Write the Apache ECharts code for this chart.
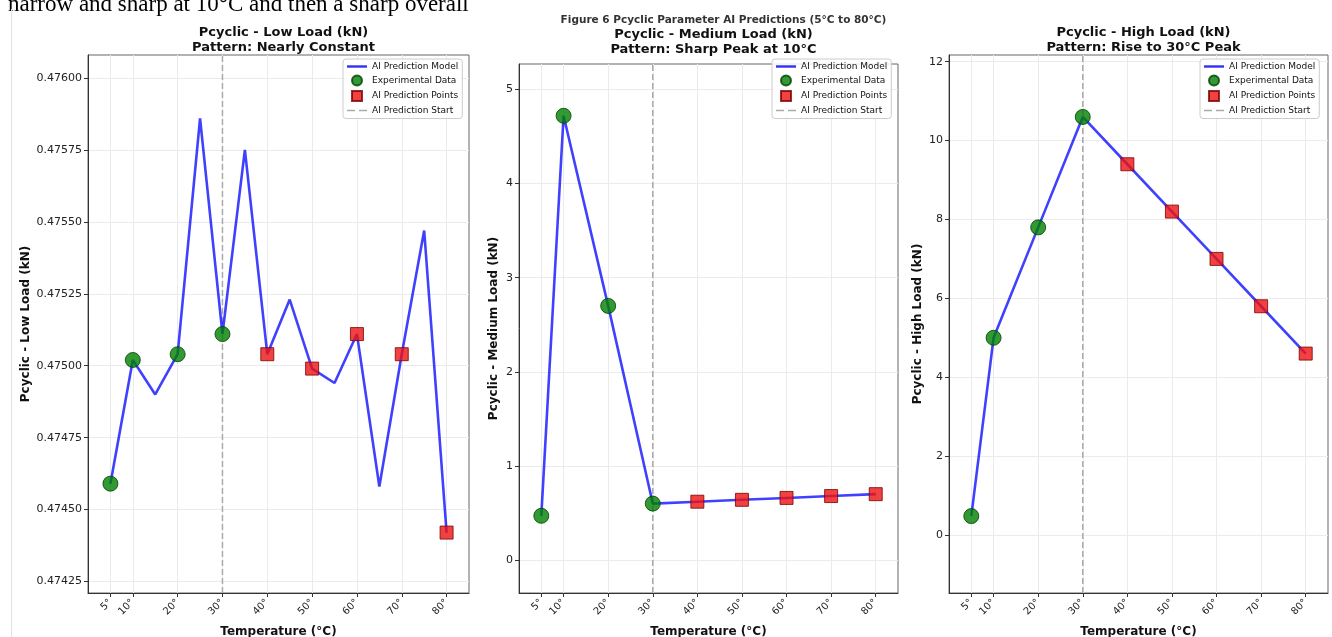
<!DOCTYPE html>
<html>
<head>
<meta charset="utf-8">
<script src="https://cdn.jsdelivr.net/npm/echarts@6/dist/echarts.min.js"></script>
<style>
html,body{margin:0;padding:0;background:#fff;}
#chart{width:1332px;height:637px;}
</style>
</head>
<body>
<div id="chart"></div>
<script>
// ---- data ----
const temps = [5, 10, 20, 30, 40, 50, 60, 70, 80];
const lowTemps = [5, 10, 15, 20, 25, 30, 35, 40, 45, 50, 55, 60, 65, 70, 75, 80];
const lowValues = [0.47459, 0.47502, 0.47490, 0.47504, 0.47586, 0.47511, 0.47575, 0.47504, 0.47523, 0.47499, 0.47494, 0.47511, 0.47458, 0.47504, 0.47547, 0.47442];
const mediumValues = [0.47, 4.72, 2.70, 0.60, 0.62, 0.64, 0.66, 0.68, 0.70];
const highValues = [0.48, 5.0, 7.8, 10.6, 9.4, 8.2, 7.0, 5.8, 4.6];
const experimentalTemps = [5, 10, 20, 30];
const predictionTemps = [40, 50, 60, 70, 80];
const predictionStart = 30;
const xTickValues = [5, 10, 20, 30, 40, 50, 60, 70, 80];
const lowTicks = [0.47425, 0.47450, 0.47475, 0.47500, 0.47525, 0.47550, 0.47575, 0.47600];
const mediumTicks = [0, 1, 2, 3, 4, 5];
const highTicks = [0, 2, 4, 6, 8, 10, 12];
const panelTitles = [
  'Pcyclic - Low Load (kN)\nPattern: Nearly Constant',
  'Pcyclic - Medium Load (kN)\nPattern: Sharp Peak at 10°C',
  'Pcyclic - High Load (kN)\nPattern: Rise to 30°C Peak'
];
const yNames = ['Pcyclic - Low Load (kN)', 'Pcyclic - Medium Load (kN)', 'Pcyclic - High Load (kN)'];
const figureTitle = 'Figure 6 Pcyclic Parameter AI Predictions (5°C to 80°C)';
const legendNames = ['AI Prediction Model', 'Experimental Data', 'AI Prediction Points', 'AI Prediction Start'];

// ---- layout ----
const FONT = 'DejaVu Sans';
const grids = [
  {left: 88, top: 55, width: 381, height: 538},
  {left: 519, top: 64, width: 379, height: 529},
  {left: 949, top: 55, width: 379, height: 538}
];
const yRanges = [[0.47421, 0.47608], [-0.35, 5.27], [-1.47, 12.17]];
const yTicks = [lowTicks, mediumTicks, highTicks];
const yFmt = [v => v.toFixed(5), v => String(v), v => String(v)];
const yNameGaps = [56, 19, 25];
const legendLeft = [343, 772, 1200];
const legendTop = [59, 59, 59];
const titleTops = [20, 22, 20];

const ICONS = {
  'AI Prediction Model': 'path://M0,3.8 L20,3.8 L20,6.2 L0,6.2 Z',
  'Experimental Data': 'path://M0,5 L0,5 M20,5 L20,5 M15,5 A5,5 0 1 1 5,5 A5,5 0 1 1 15,5 Z',
  'AI Prediction Points': 'path://M0,5 L0,5 M20,5 L20,5 M5,0 L15,0 L15,10 L5,10 Z',
  'AI Prediction Start': 'path://M0,0 L0,0 M0,10 L0,10 M0,4.3 L8,4.3 L8,5.7 L0,5.7 Z M12,4.3 L20,4.3 L20,5.7 L12,5.7 Z'
};

function pairs(xs, ys) { return xs.map((x, i) => [x, ys[i]]); }
function pick(xs, ys, sel) { return sel.map(t => [t, ys[xs.indexOf(t)]]); }

const panelData = [
  {x: lowTemps, y: lowValues},
  {x: temps, y: mediumValues},
  {x: temps, y: highValues}
];

const xAxes = [], yAxes = [], series = [], titles = [], legends = [];
grids.forEach((g, i) => {
  xAxes.push({
    type: 'value', gridIndex: i, min: 0, max: 85,
    name: 'Temperature (°C)', nameLocation: 'middle', nameGap: 33,
    nameTextStyle: {fontFamily: FONT, fontWeight: 'bold', fontSize: 12, color: '#111'},
    axisLine: {show: true, onZero: false, lineStyle: {color: '#333', width: 1}},
    axisTick: {show: true, length: 4, customValues: xTickValues, lineStyle: {color: '#333'}},
    axisLabel: {customValues: xTickValues, rotate: 45, fontFamily: FONT, fontSize: 10, color: '#222', margin: 8,
      formatter: v => v + '°'},
    splitLine: {show: true, customValues: xTickValues, lineStyle: {color: '#ebebeb', width: 1}}
  });
  yAxes.push({
    type: 'value', gridIndex: i, min: yRanges[i][0], max: yRanges[i][1],
    name: yNames[i], nameLocation: 'middle', nameGap: yNameGaps[i], nameRotate: 90,
    nameTextStyle: {fontFamily: FONT, fontWeight: 'bold', fontSize: 12, color: '#111'},
    axisLine: {show: true, onZero: false, lineStyle: {color: '#333', width: 1}},
    axisTick: {show: true, length: 4, customValues: yTicks[i], lineStyle: {color: '#333'}},
    axisLabel: {customValues: yTicks[i], fontFamily: FONT, fontSize: 11, color: '#222', margin: 6,
      formatter: yFmt[i]},
    splitLine: {show: true, customValues: yTicks[i], lineStyle: {color: '#ebebeb', width: 1}}
  });
  const cx = g.left + g.width / 2;
  titles.push({
    text: panelTitles[i], left: cx, top: titleTops[i], textAlign: 'center',
    textStyle: {fontFamily: FONT, fontWeight: 'bold', fontSize: 13, color: '#111', lineHeight: 15}
  });
  const d = panelData[i];
  series.push({
    name: 'AI Prediction Start', type: 'line', xAxisIndex: i, yAxisIndex: i,
    data: [[predictionStart, yRanges[i][0]], [predictionStart, yRanges[i][1]]],
    symbol: 'none', color: '#aaaaaa', z: 1,
    lineStyle: {color: '#aaaaaa', width: 1.5, type: [6, 3]}, silent: true
  });
  series.push({
    name: 'AI Prediction Model', type: 'line', xAxisIndex: i, yAxisIndex: i,
    data: pairs(d.x, d.y), symbol: 'none', color: '#3030f5', z: 2,
    lineStyle: {color: 'rgba(0,0,255,0.75)', width: 2.6}
  });
  series.push({
    name: 'Experimental Data', type: 'scatter', xAxisIndex: i, yAxisIndex: i,
    data: pick(d.x, d.y, experimentalTemps), symbol: 'circle', symbolSize: 15, z: 3,
    itemStyle: {color: '#008000', borderColor: '#004000', borderWidth: 1}
  });
  series.push({
    name: 'AI Prediction Points', type: 'scatter', xAxisIndex: i, yAxisIndex: i,
    data: pick(d.x, d.y, predictionTemps), symbol: 'rect', symbolSize: 13, z: 3,
    itemStyle: {color: '#ee1111', borderColor: '#7a0000', borderWidth: 1}
  });
  legends.push({
    data: legendNames.map(n => ({name: n, icon: ICONS[n]})),
    orient: 'vertical', left: legendLeft[i], top: legendTop[i],
    itemWidth: 20, itemHeight: 10, itemGap: 3.5, padding: [3, 4, 3, 3],
    borderColor: '#cccccc', borderWidth: 1, borderRadius: 3, backgroundColor: 'rgba(255,255,255,0.85)',
    textStyle: {fontFamily: FONT, fontSize: 9, color: '#111'}, selectedMode: false, z: 10
  });
});
titles.push({
  text: figureTitle, left: grids[1].left + grids[1].width / 2 + 10, top: 10, textAlign: 'center',
  textStyle: {fontFamily: FONT, fontWeight: 'bold', fontSize: 10.5, color: '#333'}
});

const chart = echarts.init(document.getElementById('chart'), null, {renderer: 'canvas'});
chart.setOption({
  backgroundColor: '#ffffff',
  animation: false,
  title: titles,
  legend: legends,
  grid: grids.map(g => Object.assign({show: true, borderColor: '#666', borderWidth: 1, backgroundColor: 'transparent',
    containLabel: false, outerBoundsMode: 'none'}, g)),
  xAxis: xAxes,
  yAxis: yAxes,
  series: series,
  graphic: [
    {type: 'text', left: 8, top: -7, silent: true,
     style: {text: 'narrow and sharp at 10°C and then a sharp overall', font: '23px "Liberation Serif"', fill: '#000'}},
    {type: 'line', silent: true, shape: {x1: 11.5, y1: 9, x2: 11.5, y2: 637}, style: {stroke: '#e2e2e2', lineWidth: 1}}
  ]
});
</script>
</body>
</html>
